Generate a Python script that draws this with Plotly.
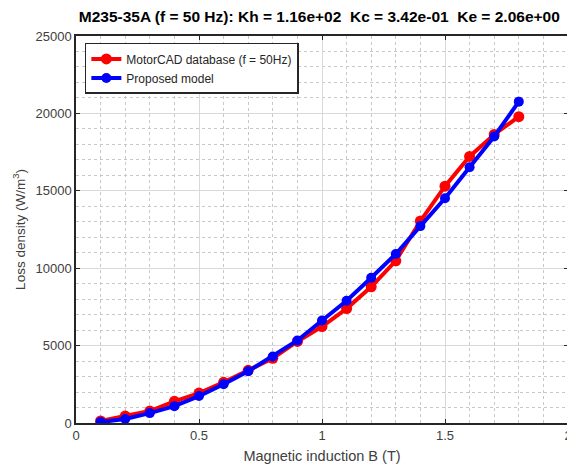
import plotly.graph_objects as go

B = [0.1, 0.2, 0.3, 0.4, 0.5, 0.6, 0.7, 0.8, 0.9, 1.0, 1.1, 1.2, 1.3, 1.4, 1.5, 1.6, 1.7, 1.8]
motorcad = [130, 450, 770, 1400, 1930, 2630, 3400, 4180, 5270, 6230, 7390, 8800, 10480, 13050, 15300, 17220, 18640, 19790]
proposed = [60, 260, 640, 1090, 1740, 2500, 3340, 4300, 5330, 6620, 7900, 9380, 10920, 12720, 14520, 16520, 18510, 20760]
x_ticks = [0, 0.5, 1, 1.5, 2]
x_ticktext = ["0", "0.5", "1", "1.5", "2"]

title_text = "M235-35A (f = 50 Hz): Kh = 1.16e+02\u00a0\u00a0Kc = 3.42e-01\u00a0\u00a0Ke = 2.06e+00"
FONT = "Liberation Sans, Arial, sans-serif"

fig = go.Figure()
fig.add_trace(go.Scatter(x=B, y=motorcad, mode="lines+markers", name="MotorCAD database (f = 50Hz)",
                         line=dict(color="#ff0000", width=4),
                         marker=dict(symbol="circle", size=11, color="#ff0000")))
fig.add_trace(go.Scatter(x=B, y=proposed, mode="lines+markers", name="Proposed model",
                         line=dict(color="#0000ff", width=4),
                         marker=dict(symbol="circle", size=10, color="#0000ff")))

axis_common = dict(
    showline=True, linecolor="#262626", linewidth=1.5, mirror="ticks",
    ticks="inside", ticklen=4, tickcolor="#262626",
    showgrid=True, gridcolor="#d9d9d9", gridwidth=1,
    zeroline=False,
    tickfont=dict(family=FONT, size=13, color="#404040"),
)

fig.update_xaxes(range=[0, 2], tickvals=x_ticks, ticktext=x_ticktext,
                 minor=dict(dtick=0.1, showgrid=True, griddash="dot", gridcolor="#c8c8c8", ticks=""),
                 title=dict(text="Magnetic induction B (T)", standoff=9,
                            font=dict(family=FONT, size=14.5, color="#404040")),
                 **axis_common)
fig.update_yaxes(range=[0, 25000], dtick=5000, tickformat="d",
                 minor=dict(dtick=1000, showgrid=True, griddash="dot", gridcolor="#c8c8c8", ticks=""),
                 title=dict(text="Loss density (W/m<sup>3</sup>)", standoff=7,
                            font=dict(family=FONT, size=13.5, color="#404040")),
                 **axis_common)

fig.update_layout(
    width=567, height=457,
    margin=dict(l=68, r=3, t=28, b=40),
    paper_bgcolor="white", plot_bgcolor="white",
    title=dict(text="<b>" + title_text + "</b>", x=0.549, xanchor="center", y=0.982, yanchor="middle",
               font=dict(family=FONT, size=15.5, color="black")),
    legend=dict(x=0.018, y=0.982, xanchor="left", yanchor="top",
                bgcolor="white", bordercolor="#262626", borderwidth=1.5,
                font=dict(family=FONT, size=12, color="#262626"),
                itemwidth=30, tracegroupgap=0),
    showlegend=True,
)

fig.write_html("out.html")
